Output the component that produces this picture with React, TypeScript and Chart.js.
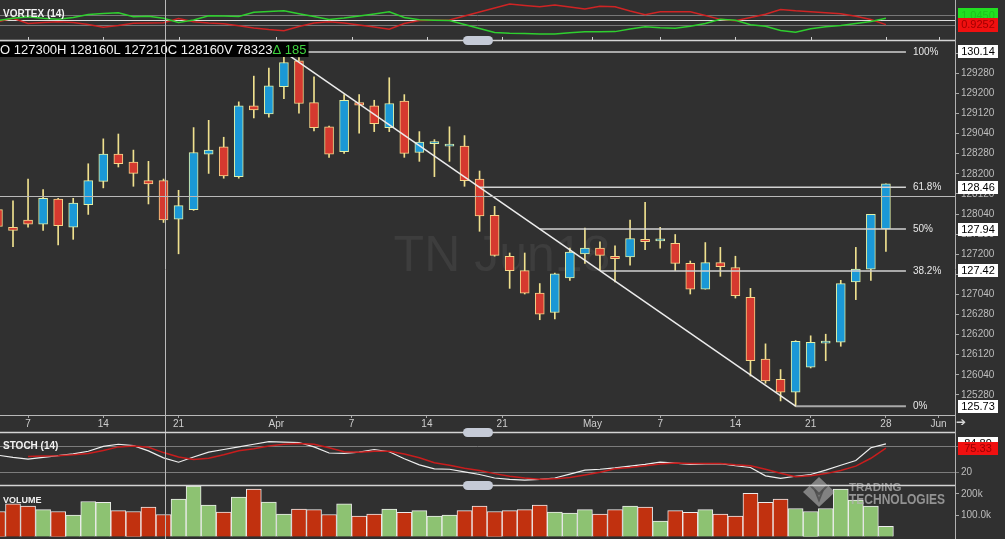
import React, { useEffect, useRef } from 'react';
import { Chart, registerables } from 'chart.js';

Chart.register(...registerables);

const W = 1005;
const H = 539;
const BG = '#303030';
const FONT = '"Liberation Sans", Arial, Helvetica, sans-serif';

// ---- data (daily candles, Ultra T-Note Jun18) ----
const DATES = [
  'Mar 5', 'Mar 6', 'Mar 7', 'Mar 8', 'Mar 9', 'Mar 12', 'Mar 13', 'Mar 14', 'Mar 15', 'Mar 16',
  'Mar 19', 'Mar 20', 'Mar 21', 'Mar 22', 'Mar 23', 'Mar 26', 'Mar 27', 'Mar 28', 'Mar 29', 'Apr 2',
  'Apr 3', 'Apr 4', 'Apr 5', 'Apr 6', 'Apr 9', 'Apr 10', 'Apr 11', 'Apr 12', 'Apr 13', 'Apr 16',
  'Apr 17', 'Apr 18', 'Apr 19', 'Apr 20', 'Apr 23', 'Apr 24', 'Apr 25', 'Apr 26', 'Apr 27', 'Apr 30',
  'May 1', 'May 2', 'May 3', 'May 4', 'May 7', 'May 8', 'May 9', 'May 10', 'May 11', 'May 14',
  'May 15', 'May 16', 'May 17', 'May 18', 'May 21', 'May 22', 'May 23', 'May 24', 'May 25', 'May 28',
];

const OPEN = [
  128.18, 127.96, 128.05, 128.00, 128.31, 127.96, 128.24, 128.53, 128.87, 128.77,
  128.54, 128.54, 128.06, 128.18, 128.87, 128.96, 128.59, 129.47, 129.37, 129.71,
  130.03, 129.51, 129.21, 128.90, 129.51, 129.47, 129.20, 129.53, 128.89, 129.00,
  128.97, 128.97, 128.56, 128.11, 127.60, 127.42, 127.14, 126.90, 127.33, 127.63,
  127.70, 127.60, 127.59, 127.81, 127.79, 127.76, 127.51, 127.19, 127.52, 127.46,
  127.09, 126.32, 126.07, 125.91, 126.22, 126.52, 126.53, 127.28, 127.44, 127.94,
];
const HIGH = [
  128.24, 128.29, 128.56, 128.43, 128.32, 128.32, 128.75, 129.06, 129.12, 128.92,
  128.78, 128.56, 128.42, 129.20, 129.29, 129.08, 129.52, 129.84, 129.94, 130.14,
  130.07, 129.83, 129.22, 129.61, 129.61, 129.54, 129.82, 129.61, 129.15, 129.05,
  129.21, 129.10, 128.66, 128.22, 127.64, 127.64, 127.26, 127.39, 127.70, 127.95,
  127.78, 127.73, 128.05, 128.27, 127.96, 127.87, 127.54, 127.77, 127.71, 127.60,
  127.20, 126.51, 126.19, 126.55, 126.61, 126.63, 127.30, 127.71, 128.12, 128.50,
];
const LOW = [
  127.94, 127.72, 127.96, 127.92, 127.74, 127.81, 128.12, 128.45, 128.71, 128.47,
  128.25, 128.02, 127.63, 128.17, 128.63, 128.57, 128.57, 129.32, 129.33, 129.56,
  129.38, 129.16, 128.83, 128.88, 129.13, 129.15, 129.15, 128.83, 128.78, 128.59,
  128.78, 128.47, 127.91, 127.60, 127.20, 127.13, 126.81, 126.82, 127.30, 127.51,
  127.43, 127.28, 127.49, 127.68, 127.70, 127.42, 127.13, 127.19, 127.35, 127.08,
  126.11, 126.02, 125.80, 125.73, 126.21, 126.30, 126.48, 127.06, 127.30, 127.66,
];
const CLOSE = [
  127.97, 127.92, 128.00, 128.32, 127.98, 128.26, 128.54, 128.87, 128.75, 128.63,
  128.50, 128.05, 128.23, 128.89, 128.92, 128.60, 129.47, 129.42, 129.72, 130.01,
  129.50, 129.20, 128.87, 129.54, 129.48, 129.25, 129.50, 128.88, 129.02, 129.00,
  128.97, 128.54, 128.10, 127.61, 127.42, 127.14, 126.88, 127.38, 127.65, 127.70,
  127.61, 127.57, 127.82, 127.78, 127.79, 127.51, 127.19, 127.52, 127.47, 127.11,
  126.30, 126.05, 125.91, 126.54, 126.53, 126.54, 127.26, 127.44, 128.12, 128.50,
];
// volume in thousands of contracts
const VOLUME_K = [
  117, 153, 143, 126, 117, 100, 164, 160, 121, 117,
  138, 103, 175, 237, 147, 114, 185, 223, 161, 105,
  128, 126, 103, 153, 96, 105, 128, 113, 121, 96,
  100, 121, 143, 117, 121, 126, 147, 114, 110, 126,
  105, 126, 143, 138, 72, 121, 113, 126, 105, 96,
  202, 160, 175, 131, 117, 131, 223, 171, 143, 47,
];
const STOCH_K = [
  59, 54, 50, 54, 58, 62, 68, 79, 84, 81,
  69, 53, 43, 55, 66, 72, 78, 84, 90, 89,
  88, 78, 64, 63, 66, 72, 67, 51, 37, 28,
  27, 21, 15, 7, 4, 2, 4, 7, 16, 25,
  27, 30, 34, 38, 43, 41, 38, 39, 40, 35,
  31, 12, 6, 11, 15, 25, 36, 47, 76, 84.89,
];
const STOCH_D = [
  null, null, 56, 57, 58, 60, 63, 70, 78, 80,
  77, 65, 55, 49, 52, 60, 69, 74, 80, 84,
  86, 84, 76, 67, 66, 68, 68, 62, 53, 42,
  36, 29, 24, 17, 11, 7, 4, 5, 8, 14,
  20, 28, 31, 35, 39, 41, 40, 40, 40, 37,
  35, 27, 18, 10, 12, 17, 24, 34, 52, 75.33,
];
const VI_PLUS = [
  1.0, 1.045, 1.075, 1.045, 1.026, 1.06, 1.117, 1.136, 1.149, 1.075,
  1.085, 1.047, 0.966, 1.013, 1.092, 1.089, 1.079, 1.158, 1.174, 1.187,
  1.13, 1.079, 1.023, 1.051, 1.089, 1.126, 1.168, 1.06, 1.017, 1.008,
  1.002, 0.928, 0.853, 0.777, 0.762, 0.757, 0.751, 0.749, 0.772, 0.792,
  0.792, 0.794, 0.843, 0.887, 0.866, 0.858, 0.894, 0.947, 1.025, 1.008,
  0.923, 0.894, 0.815, 0.781, 0.847, 0.885, 0.909, 0.947, 0.985, 1.045,
];
const VI_MINUS = [
  0.981, 1.045, 0.947, 0.966, 0.979, 0.966, 0.928, 0.875, 0.909, 0.951,
  0.957, 0.962, 1.043, 0.979, 0.957, 0.942, 0.904, 0.862, 0.832, 0.811,
  0.891, 0.957, 0.979, 0.957, 0.919, 0.881, 0.838, 0.947, 1.002, 1.008,
  1.013, 1.09, 1.165, 1.24, 1.315, 1.287, 1.264, 1.296, 1.258, 1.221,
  1.274, 1.264, 1.183, 1.111, 1.168, 1.17, 1.17, 1.098, 1.025, 1.0,
  1.06, 1.121, 1.211, 1.187, 1.17, 1.149, 1.13, 1.085, 1.023, 0.9252,
];

// axis ticks
const X_TICK_POS = [2, 7, 12, 18.5, 23.5, 28.5, 33.5, 39.5, 44, 49, 54, 59, 62.5];
const X_TICK_LABELS = ['7', '14', '21', 'Apr', '7', '14', '21', 'May', '7', '14', '21', '28', 'Jun'];
const PRICE_TICKS = [
  125.875, 126.125, 126.375, 126.625, 126.875, 127.125, 127.375, 127.625, 127.875,
  128.125, 128.375, 128.625, 128.875, 129.125, 129.375, 129.625, 129.875, 130.125,
];
const STOCH_TICKS = [20, 80];
const VOLUME_TICKS = [100, 200];
const VOLUME_TICK_LABELS = ['100.0k', '200k'];
const VORTEX_GRID = [0.9, 1.0, 1.1];

// Fibonacci retracement drawing
const FIB_HIGH = 130.140625;
const FIB_LOW = 125.734375;
const FIB_START_X = 19;
const FIB_END_X = 53;
const FIB_LINE_END_X = 60.33;
const FIB_LEVELS = [1, 0.618, 0.5, 0.382, 0];
const FIB_LABELS = ['100%', '61.8%', '50%', '38.2%', '0%'];

// crosshair
const CROSS_X = 11.1;
const CROSS_Y = 128.35;

const HEADER_TEXT = 'O 127300H 128160L 127210C 128160V 78323';
const HEADER_DELTA = '\u0394 185';
const WATERMARK = 'TN Jun18';

// view ranges
const X_MIN = 0.136;
const X_MAX = 63.59;
const PRICE_MIN = 125.625;
const PRICE_MAX = 130.277;

const UP_FILL = '#1a98d6';
const DOWN_FILL = '#d5392f';
const UP_EDGE = '#e2f0a6';
const DOWN_EDGE = '#f5d68a';
const WICK = '#efe08e';

const fibValue = (lv: number) => FIB_LOW + lv * (FIB_HIGH - FIB_LOW);
const fmt32 = (v: number) => {
  const w = Math.floor(v + 1e-9);
  const t = Math.round((v - w) * 32);
  return `${w}${String(t).padStart(2, '0')}0`;
};
const isUp = (k: number) => CLOSE[k] >= OPEN[k];

const fitY = (a: any) => {
  a.width = 50;
  a.paddingTop = 0;
  a.paddingBottom = 0;
};

const common: any = {
  responsive: false,
  animation: false,
  devicePixelRatio: 1,
  events: [],
  plugins: { legend: { display: false }, tooltip: { enabled: false } },
};

const xHidden: any = { type: 'linear', min: X_MIN, max: X_MAX, display: false, offset: false };

function box(ctx: CanvasRenderingContext2D, cy: number, fill: string, textColor: string, text: string, h = 13) {
  ctx.fillStyle = fill;
  ctx.fillRect(958, Math.round(cy - h / 2), 40, h);
  ctx.fillStyle = textColor;
  ctx.font = `11px ${FONT}`;
  ctx.textAlign = 'center';
  ctx.textBaseline = 'middle';
  ctx.fillText(text, 978, cy + 0.5);
}

function panelLabel(ctx: CanvasRenderingContext2D, text: string, x: number, y: number, size: number) {
  ctx.font = `bold ${size}px ${FONT}`;
  ctx.fillStyle = '#f2f2f2';
  ctx.textAlign = 'left';
  ctx.textBaseline = 'alphabetic';
  ctx.fillText(text, x, y);
}

export default function App() {
  const vRef = useRef<HTMLCanvasElement>(null);
  const pRef = useRef<HTMLCanvasElement>(null);
  const sRef = useRef<HTMLCanvasElement>(null);
  const volRef = useRef<HTMLCanvasElement>(null);

  useEffect(() => {
    document.body.style.margin = '0';
    document.body.style.background = BG;
    Chart.defaults.font.family = FONT;

    // ---------- VORTEX ----------
    const vortexPlugin = {
      id: 'vortexDeco',
      afterDraw(chart: any) {
        const { ctx, scales } = chart;
        const y = scales.y;
        const x = scales.x;
        ctx.save();
        panelLabel(ctx, 'VORTEX (14)', 3, 17, 10);
        ctx.strokeStyle = '#cfcfcf';
        ctx.lineWidth = 1;
        X_TICK_POS.forEach((p) => {
          const px = Math.round(x.getPixelForValue(p)) + 0.5;
          ctx.beginPath();
          ctx.moveTo(px, 37);
          ctx.lineTo(px, 40);
          ctx.stroke();
        });
        const last = VI_PLUS.length - 1;
        box(ctx, y.getPixelForValue(VI_PLUS[last]) - 3, '#22e022', '#1cc41c', VI_PLUS[last].toFixed(4), 14);
        box(ctx, y.getPixelForValue(VI_MINUS[last]), '#f01010', '#a00000', VI_MINUS[last].toFixed(4), 14);
        ctx.restore();
      },
    };
    const vortex = new Chart(vRef.current!, {
      type: 'line',
      data: {
        datasets: [
          { data: VI_PLUS.map((v, k) => ({ x: k, y: v })), borderColor: '#2fcf2f', borderWidth: 1.5, pointRadius: 0, tension: 0 },
          { data: VI_MINUS.map((v, k) => ({ x: k, y: v })), borderColor: '#cf2424', borderWidth: 1.5, pointRadius: 0, tension: 0 },
        ],
      },
      options: {
        ...common,
        layout: { padding: { top: 0, bottom: H - 40, left: 0, right: 0 } },
        scales: {
          x: xHidden,
          y: {
            type: 'linear', position: 'right', min: 0.636, max: 1.39,
            afterBuildTicks: (a: any) => { a.ticks = VORTEX_GRID.map((v) => ({ value: v })); },
            afterFit: fitY,
            ticks: { display: false },
            grid: { color: (c: any) => (c.tick && c.tick.value === 1 ? '#dedede' : '#777777'), lineWidth: 1, drawTicks: false },
            border: { display: false },
          },
        },
      } as any,
      plugins: [vortexPlugin],
    } as any);

    // ---------- PRICE ----------
    const pricePlugin = {
      id: 'priceDeco',
      beforeDatasetsDraw(chart: any) {
        const { ctx } = chart;
        ctx.save();
        ctx.font = `50px ${FONT}`;
        ctx.fillStyle = '#3d3d3d';
        ctx.textAlign = 'center';
        ctx.textBaseline = 'alphabetic';
        ctx.fillText(WATERMARK, 502, 271);
        ctx.restore();
      },
      afterDatasetsDraw(chart: any) {
        const { ctx, chartArea, scales } = chart;
        const x = scales.x;
        const y = scales.y;
        ctx.save();
        const cy = Math.round(y.getPixelForValue(CROSS_Y)) + 0.5;
        ctx.strokeStyle = '#b9b9b9';
        ctx.lineWidth = 1;
        ctx.beginPath();
        ctx.moveTo(chartArea.left, cy);
        ctx.lineTo(chartArea.right, cy);
        ctx.stroke();

        ctx.font = `10px ${FONT}`;
        ctx.fillStyle = '#e8e8e8';
        ctx.textAlign = 'left';
        ctx.textBaseline = 'middle';
        const lx = x.getPixelForValue(FIB_LINE_END_X) + 7;
        FIB_LEVELS.forEach((lv, i) => {
          ctx.fillText(FIB_LABELS[i], lx, y.getPixelForValue(fibValue(lv)));
        });

        ctx.font = `13px ${FONT}`;
        const w1 = ctx.measureText(HEADER_TEXT).width;
        const w2 = ctx.measureText(HEADER_DELTA).width;
        ctx.fillStyle = '#000000';
        ctx.fillRect(0, 42, w1 + w2 + 2, 15);
        ctx.textBaseline = 'alphabetic';
        ctx.fillStyle = '#f2f2f2';
        ctx.fillText(HEADER_TEXT, 0, 54);
        ctx.fillStyle = '#3fd23f';
        ctx.fillText(HEADER_DELTA, w1, 54);
        ctx.restore();
      },
      afterDraw(chart: any) {
        const { ctx, scales } = chart;
        const y = scales.y;
        ctx.save();
        FIB_LEVELS.forEach((lv) => {
          const v = fibValue(lv);
          box(ctx, y.getPixelForValue(v), '#ffffff', '#000000', (v + 1e-9).toFixed(2));
        });
        ctx.font = `12px "DejaVu Sans", ${FONT}`;
        ctx.fillStyle = '#d6d6d6';
        ctx.textAlign = 'left';
        ctx.textBaseline = 'middle';
        ctx.fillText('\u2794', 956, 423);
        ctx.restore();
      },
    };

    const fibDatasets = FIB_LEVELS.map((lv, i) => ({
      type: 'line',
      label: FIB_LABELS[i],
      data: [
        { x: FIB_START_X + (1 - lv) * (FIB_END_X - FIB_START_X), y: fibValue(lv) },
        { x: FIB_LINE_END_X, y: fibValue(lv) },
      ],
      borderColor: lv === 1 || lv === 0 ? '#a9a9a9' : '#d2d2d2',
      borderWidth: lv === 1 || lv === 0 ? 2 : 1.5,
      pointRadius: 0,
      order: 0,
    }));

    const price = new Chart(pRef.current!, {
      type: 'bar',
      data: {
        datasets: [
          {
            type: 'line',
            label: 'trend',
            data: [{ x: FIB_START_X, y: FIB_HIGH }, { x: FIB_END_X, y: FIB_LOW }],
            borderColor: '#ececec',
            borderWidth: 1.5,
            pointRadius: 0,
            order: 0,
          },
          ...fibDatasets,
          {
            type: 'bar',
            label: 'body',
            data: OPEN.map((o, k) => ({ x: k, y: [o, CLOSE[k]] })),
            backgroundColor: OPEN.map((_, k) => (isUp(k) ? UP_FILL : DOWN_FILL)),
            borderColor: OPEN.map((_, k) => (isUp(k) ? UP_EDGE : DOWN_EDGE)),
            borderWidth: 1,
            borderSkipped: false,
            barThickness: 9,
            minBarLength: 2,
            grouped: false,
            order: 1,
          },
          {
            type: 'bar',
            label: 'wick',
            data: LOW.map((l, k) => ({ x: k, y: [l, HIGH[k]] })),
            backgroundColor: WICK,
            borderWidth: 0,
            barThickness: 1,
            grouped: false,
            order: 2,
          },
        ],
      },
      options: {
        ...common,
        layout: { padding: { top: 41, bottom: H - 415 - 20, left: 0, right: 0 } },
        scales: {
          x: {
            type: 'linear', position: 'bottom', min: X_MIN, max: X_MAX, offset: false,
            afterBuildTicks: (a: any) => { a.ticks = X_TICK_POS.map((v) => ({ value: v })); },
            afterFit: (a: any) => { a.height = 20; a.paddingLeft = 0; a.paddingRight = 0; },
            ticks: {
              autoSkip: false, maxRotation: 0, minRotation: 0, padding: 0, color: '#cfcfcf',
              font: { size: 10, family: FONT },
              callback: (v: any) => { const i = X_TICK_POS.indexOf(v); return i >= 0 ? X_TICK_LABELS[i] : ''; },
            },
            grid: { display: true, drawOnChartArea: false, tickLength: 3, color: '#a8a8a8', offset: false },
            border: { display: true, color: '#b8b8b8' },
          },
          y: {
            type: 'linear', position: 'right', min: PRICE_MIN, max: PRICE_MAX,
            afterBuildTicks: (a: any) => { a.ticks = PRICE_TICKS.map((v) => ({ value: v })); },
            afterFit: fitY,
            ticks: { autoSkip: false, color: '#bdbdbd', font: { size: 10, family: FONT }, padding: 2, callback: (v: any) => fmt32(v) },
            grid: { drawOnChartArea: false, tickLength: 4, color: '#a8a8a8' },
            border: { display: false },
          },
        },
      } as any,
      plugins: [pricePlugin],
    } as any);

    // ---------- STOCH ----------
    const stochPlugin = {
      id: 'stochDeco',
      afterDraw(chart: any) {
        const { ctx, scales } = chart;
        const y = scales.y;
        ctx.save();
        panelLabel(ctx, 'STOCH (14)', 3, 449, 10);
        const last = STOCH_K.length - 1;
        box(ctx, y.getPixelForValue(STOCH_K[last]), '#ffffff', '#000000', STOCH_K[last].toFixed(2));
        box(ctx, y.getPixelForValue(STOCH_D[last] as number), '#f01010', '#9a0000', (STOCH_D[last] as number).toFixed(2));
        ctx.restore();
      },
    };
    const stoch = new Chart(sRef.current!, {
      type: 'line',
      data: {
        datasets: [
          { data: STOCH_D.map((v, k) => ({ x: k, y: v })), borderColor: '#c81d1d', borderWidth: 1.5, pointRadius: 0, tension: 0 },
          { data: STOCH_K.map((v, k) => ({ x: k, y: v })), borderColor: '#eeeeee', borderWidth: 1.2, pointRadius: 0, tension: 0 },
        ],
      },
      options: {
        ...common,
        layout: { padding: { top: 433, bottom: H - 484, left: 0, right: 0 } },
        scales: {
          x: xHidden,
          y: {
            type: 'linear', position: 'right', min: -6.7, max: 109.7,
            afterBuildTicks: (a: any) => { a.ticks = STOCH_TICKS.map((v) => ({ value: v })); },
            afterFit: fitY,
            ticks: { color: '#bdbdbd', font: { size: 10, family: FONT }, padding: 2 },
            grid: { color: '#7c7c7c', tickLength: 4 },
            border: { display: false },
          },
        },
      } as any,
      plugins: [stochPlugin],
    } as any);

    // ---------- VOLUME (top canvas, also page overlays) ----------
    const volumePlugin = {
      id: 'volumeDeco',
      afterDatasetsDraw(chart: any) {
        const { ctx } = chart;
        ctx.save();
        // Trading Technologies logo
        ctx.globalAlpha = 0.55;
        ctx.fillStyle = '#c4c4c4';
        ctx.beginPath();
        ctx.moveTo(819, 477);
        ctx.lineTo(835, 492);
        ctx.lineTo(819, 507);
        ctx.lineTo(803, 492);
        ctx.closePath();
        ctx.fill();
        ctx.globalAlpha = 0.8;
        ctx.strokeStyle = '#4a4a4a';
        ctx.lineWidth = 2;
        [0, 6].forEach((d) => {
          ctx.beginPath();
          ctx.moveTo(809 + d, 484 + d);
          ctx.lineTo(819, 494 + d);
          ctx.lineTo(829 - d, 484 + d);
          ctx.stroke();
        });
        ctx.globalAlpha = 0.75;
        ctx.fillStyle = '#b4b4b4';
        ctx.textAlign = 'left';
        ctx.textBaseline = 'alphabetic';
        ctx.font = `bold 11.5px ${FONT}`;
        ctx.fillText('TRADING', 849, 491, 56);
        ctx.font = `bold 14px ${FONT}`;
        ctx.fillText('TECHNOLOGIES', 849, 504, 96);
        ctx.restore();
      },
      afterDraw(chart: any) {
        const { ctx, scales } = chart;
        const x = scales.x;
        ctx.save();
        panelLabel(ctx, 'VOLUME', 3, 503, 9);
        // right axis line over full height
        ctx.strokeStyle = '#b0b0b0';
        ctx.lineWidth = 1;
        ctx.beginPath();
        ctx.moveTo(955.5, 0);
        ctx.lineTo(955.5, H);
        ctx.stroke();
        // vertical crosshair
        const cx = Math.round(x.getPixelForValue(CROSS_X)) + 0.5;
        ctx.strokeStyle = '#b9b9b9';
        ctx.beginPath();
        ctx.moveTo(cx, 0);
        ctx.lineTo(cx, H);
        ctx.stroke();
        // panel separators with handles
        [40.5, 432.5, 485.5].forEach((sy) => {
          ctx.strokeStyle = '#d4d4d4';
          ctx.lineWidth = 1.5;
          ctx.beginPath();
          ctx.moveTo(0, sy);
          ctx.lineTo(955, sy);
          ctx.stroke();
          ctx.fillStyle = '#c5cad6';
          ctx.beginPath();
          (ctx as any).roundRect(463, sy - 4.5, 30, 9, 4.5);
          ctx.fill();
        });
        ctx.restore();
      },
    };
    const volume = new Chart(volRef.current!, {
      type: 'bar',
      data: {
        datasets: [
          {
            data: VOLUME_K.map((v, k) => ({ x: k, y: v })),
            backgroundColor: VOLUME_K.map((_, k) => (isUp(k) ? '#8dc272' : '#c1310f')),
            borderColor: '#ececec',
            borderWidth: 1,
            barThickness: 15,
            grouped: false,
          },
        ],
      },
      options: {
        ...common,
        layout: { padding: { top: 486, bottom: 0, left: 0, right: 0 } },
        scales: {
          x: xHidden,
          y: {
            type: 'linear', position: 'right', min: -12.3, max: 236.9,
            afterBuildTicks: (a: any) => { a.ticks = VOLUME_TICKS.map((v) => ({ value: v })); },
            afterFit: fitY,
            ticks: {
              color: '#bdbdbd', font: { size: 10, family: FONT }, padding: 2,
              callback: (v: any) => { const i = VOLUME_TICKS.indexOf(v); return i >= 0 ? VOLUME_TICK_LABELS[i] : ''; },
            },
            grid: { drawOnChartArea: false, tickLength: 4, color: '#a8a8a8' },
            border: { display: false },
          },
        },
      } as any,
      plugins: [volumePlugin],
    } as any);

    return () => {
      vortex.destroy();
      price.destroy();
      stoch.destroy();
      volume.destroy();
    };
  }, []);

  const cs: React.CSSProperties = { position: 'absolute', left: 0, top: 0, width: W, height: H };
  return (
    <div style={{ position: 'fixed', left: 0, top: 0, width: W, height: H, background: BG, overflow: 'hidden' }}>
      <canvas ref={vRef} width={W} height={H} style={cs} />
      <canvas ref={pRef} width={W} height={H} style={cs} />
      <canvas ref={sRef} width={W} height={H} style={cs} />
      <canvas ref={volRef} width={W} height={H} style={cs} />
    </div>
  );
}
